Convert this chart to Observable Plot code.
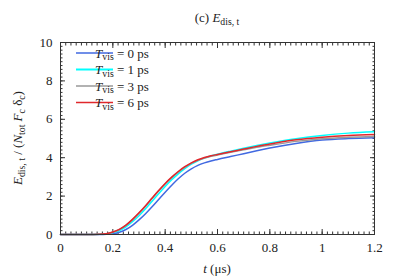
<!DOCTYPE html>
<html>
<head>
<meta charset="utf-8">
<script src="https://cdn.jsdelivr.net/npm/d3@7"></script>
<script src="https://cdn.jsdelivr.net/npm/@observablehq/plot@0.6"></script>
<style>
  html, body { margin: 0; padding: 0; background: #fff; }
  svg { display: block; }
</style>
</head>
<body>
<div id="chart"></div>
<script>
// time (μs)
const tValues = [0, 0.05, 0.1, 0.15, 0.175, 0.2, 0.225, 0.25, 0.275, 0.3, 0.325, 0.35, 0.375, 0.4, 0.425, 0.45, 0.475, 0.5, 0.525, 0.55, 0.575, 0.6, 0.65, 0.7, 0.75, 0.8, 0.9, 1.0, 1.1, 1.2];
// E_dis,t / (N_tot F_c δ_c) for each T_vis
const tvis0 = [0, 0, 0, 0, 0.01, 0.04, 0.12, 0.26, 0.48, 0.76, 1.08, 1.44, 1.82, 2.2, 2.56, 2.9, 3.19, 3.42, 3.6, 3.73, 3.83, 3.91, 4.06, 4.21, 4.36, 4.5, 4.74, 4.92, 5.0, 5.04];
const tvis1 = [0, 0, 0, 0.01, 0.03, 0.1, 0.21, 0.4, 0.67, 0.98, 1.34, 1.73, 2.12, 2.5, 2.85, 3.16, 3.43, 3.66, 3.84, 3.98, 4.09, 4.18, 4.34, 4.49, 4.63, 4.76, 4.99, 5.16, 5.28, 5.35];
const tvis3 = [0, 0, 0, 0.01, 0.04, 0.12, 0.26, 0.47, 0.76, 1.1, 1.47, 1.87, 2.26, 2.63, 2.96, 3.25, 3.5, 3.7, 3.86, 3.98, 4.07, 4.14, 4.28, 4.41, 4.54, 4.65, 4.85, 4.99, 5.06, 5.1];
const tvis6 = [0, 0, 0, 0.01, 0.04, 0.13, 0.27, 0.49, 0.79, 1.13, 1.5, 1.9, 2.29, 2.66, 2.99, 3.28, 3.53, 3.73, 3.89, 4.01, 4.1, 4.17, 4.31, 4.45, 4.59, 4.71, 4.93, 5.07, 5.16, 5.21];

const seriesNames = ["0", "1", "3", "6"];
const seriesValues = [tvis0, tvis1, tvis3, tvis6];
const seriesColors = ["#4169e1", "#00ffff", "#999999", "#e0282c"];

const xTicks = [0, 0.2, 0.4, 0.6, 0.8, 1, 1.2];
const yTicks = [0, 2, 4, 6, 8, 10];
const xMinor = d3.range(0, 1.2001, 0.02).map(v => +v.toFixed(2));
const yMinor = d3.range(0, 10.001, 0.2).map(v => +v.toFixed(1));

const rows = [];
seriesNames.forEach((name, i) => {
  tValues.forEach((t, j) => rows.push({series: name, t, e: seriesValues[i][j]}));
});

const W = 399, H = 278;
const mL = 60, mR = 25, mT = 42, mB = 44;

const tickStroke = "#333";
const tickOnly = (size, anchor) => ({anchor, tickSize: size, fill: "none", label: null, stroke: tickStroke});
const fmt = d3.format("~g");
const chart = Plot.plot({
  width: W,
  height: H,
  marginLeft: mL,
  marginRight: mR,
  marginTop: mT,
  marginBottom: mB,
  style: {fontFamily: "'Liberation Serif', serif", fontSize: "13px", color: "#222", background: "#fff"},
  x: {domain: [0, 1.2]},
  y: {domain: [0, 10]},
  color: {domain: seriesNames, range: seriesColors},
  marks: [
    Plot.axisX(xMinor, tickOnly(-2.5, "bottom")),
    Plot.axisX(xMinor, tickOnly(-2.5, "top")),
    Plot.axisX(xTicks, tickOnly(-5, "bottom")),
    Plot.axisX(xTicks, tickOnly(-5, "top")),
    Plot.axisY(yMinor, tickOnly(-2.5, "left")),
    Plot.axisY(yMinor, tickOnly(-2.5, "right")),
    Plot.axisY(yTicks, tickOnly(-5, "left")),
    Plot.axisY(yTicks, tickOnly(-5, "right")),
    Plot.axisX(xTicks, {anchor: "bottom", tickSize: 0, tickPadding: 8, tickFormat: fmt, label: null, fontSize: 13, fill: "#222"}),
    Plot.axisY(yTicks, {anchor: "left", tickSize: 0, tickPadding: 8, tickFormat: fmt, label: null, fontSize: 13, fill: "#222"}),
    Plot.line(rows, {x: "t", y: "e", z: "series", stroke: "series", strokeWidth: 1.5, curve: "monotone-x"}),
    Plot.frame({stroke: "#333", strokeWidth: 1})
  ]
});
document.getElementById("chart").appendChild(chart);

// Annotations with sub-scripts
const svg = d3.select(chart);
const cx = (mL + (W - mR)) / 2;
const cy = (mT + (H - mB)) / 2;
const font = "'Liberation Serif', serif";

function richText(g, parts) {
  let prevSub = false;
  parts.forEach(p => {
    const ts = g.append("tspan").text(p.t);
    if (p.i) ts.attr("font-style", "italic");
    if (p.sub) {
      ts.attr("font-size", "0.75em");
      if (!prevSub) ts.attr("dy", "0.3em");
    } else if (prevSub) {
      ts.attr("dy", "-0.225em");
    }
    prevSub = !!p.sub;
  });
}

// Title
const title = svg.append("text")
  .attr("x", cx).attr("y", 22).attr("text-anchor", "middle")
  .attr("font-family", font).attr("font-size", 13).attr("fill", "#222");
richText(title, [{t: "(c) "}, {t: "E", i: true}, {t: "dis, t", sub: true}]);

// X label
const xl = svg.append("text")
  .attr("x", cx).attr("y", 273).attr("text-anchor", "middle")
  .attr("font-family", font).attr("font-size", 13).attr("fill", "#222");
richText(xl, [{t: "t", i: true}, {t: " (μs)"}]);

// Y label
const yl = svg.append("text")
  .attr("transform", `translate(22,${cy}) rotate(-90)`).attr("text-anchor", "middle")
  .attr("font-family", font).attr("font-size", 13).attr("fill", "#222");
richText(yl, [
  {t: "E", i: true}, {t: "dis, t", sub: true}, {t: " / ("},
  {t: "N", i: true}, {t: "tot", sub: true}, {t: " "},
  {t: "F", i: true}, {t: "c", sub: true}, {t: " δ"},
  {t: "c", sub: true}, {t: ")"}
]);

// Legend
const legendY0 = 53, legendDy = 16.5;
seriesNames.forEach((name, i) => {
  const yy = legendY0 + i * legendDy;
  svg.append("line")
    .attr("x1", 76).attr("x2", 113).attr("y1", yy).attr("y2", yy)
    .attr("stroke", seriesColors[i]).attr("stroke-width", i === 1 ? 2.2 : 1.6);
  const lt = svg.append("text")
    .attr("x", 122).attr("y", yy + 4.5)
    .attr("font-family", font).attr("font-size", 13).attr("fill", "#222");
  richText(lt, [{t: "T", i: true}, {t: "vis", sub: true}, {t: ` = ${name} ps`}]);
});
</script>
</body>
</html>
